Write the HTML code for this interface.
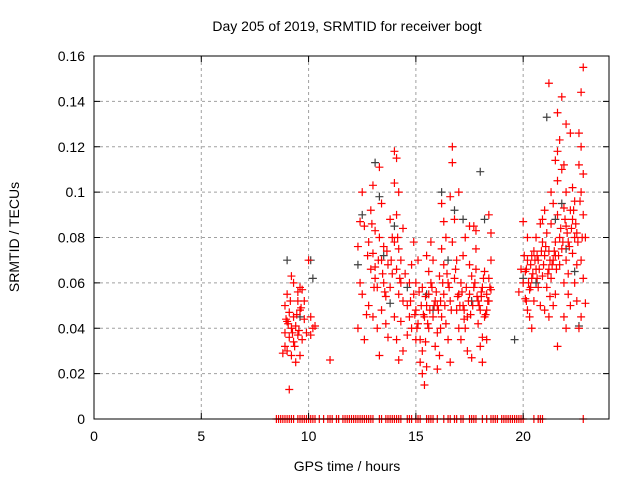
<!DOCTYPE html>
<html><head><meta charset="utf-8"><style>
body{margin:0;background:#fff;}
svg{display:block;font-family:"Liberation Sans",sans-serif;}
</style></head><body>
<svg id="chart" width="640" height="480">
<text x="347" y="31" font-size="14" text-anchor="middle">Day 205 of 2019, SRMTID for receiver bogt</text>
<text x="347" y="471" font-size="14" text-anchor="middle">GPS time / hours</text>
<text transform="translate(19,237) rotate(-90)" font-size="14" text-anchor="middle">SRMTID / TECUs</text>
<g id="grid"></g><g id="marks"></g><g id="axes"></g>
</svg>
<script>
const xTicks=[0,5,10,15,20];
const yTicks=[0,0.02,0.04,0.06,0.08,0.1,0.12,0.14,0.16];
const yTickLabels=["0","0.02","0.04","0.06","0.08","0.1","0.12","0.14","0.16"];
const redHours=[9.0,9.2,9.5,8.9,9.1,9.3,9.6,9.0,9.2,9.4,8.9,9.1,9.3,9.5,9.7,9.0,8.8,9.2,9.4,9.6,9.1,9.7,9.8,9.9,10.0,10.1,10.2,10.3,10.1,9.3,9.5,8.9,9.8,9.6,
11.0,
12.3,12.4,12.5,12.6,12.4,12.5,12.3,12.6,12.8,12.9,13.0,13.1,13.0,12.9,13.1,12.8,13.0,13.2,13.3,13.4,13.3,13.5,13.4,13.2,13.5,13.6,13.4,13.6,13.3,13.7,13.8,13.9,13.7,13.9,13.8,14.0,14.1,14.0,14.2,14.1,14.0,14.2,14.3,14.1,14.3,14.2,14.4,14.0,14.3,14.1,14.4,14.2,14.5,14.4,13.1,12.7,
14.6,14.7,14.8,14.6,14.9,15.0,14.8,14.9,15.1,15.0,15.1,15.2,15.3,15.2,15.3,15.4,15.5,15.4,15.5,15.6,15.3,15.6,15.5,15.7,15.8,15.7,15.9,15.8,16.0,15.9,16.1,16.0,16.2,16.3,16.1,16.3,16.2,16.4,16.2,16.5,16.6,16.4,16.5,16.7,16.7,16.6,16.8,16.7,16.9,16.8,17.0,16.9,17.0,17.1,17.1,17.2,17.3,17.2,17.4,17.3,17.5,17.6,17.5,17.4,17.6,17.7,17.8,17.8,17.7,17.9,18.0,17.9,18.1,18.0,18.2,18.1,18.3,18.2,18.4,18.3,18.4,18.5,18.5,18.4,18.5,18.3,17.0,16.6,15.0,15.6,16.0,17.8,14.7,18.1,17.5,16.3,
19.8,19.9,20.0,20.1,20.0,20.2,20.3,20.1,20.2,20.3,20.4,20.5,20.6,20.4,20.6,20.7,20.5,20.8,20.9,20.7,20.9,20.8,21.0,21.1,21.0,21.2,21.1,21.0,21.2,21.3,21.4,21.3,21.5,21.4,21.3,21.5,21.4,21.6,21.5,21.6,21.7,21.6,21.7,21.8,21.7,21.6,21.8,21.9,22.0,21.9,22.0,22.1,22.0,22.1,21.9,22.1,22.2,21.9,22.0,22.2,22.3,22.4,22.3,22.4,22.3,22.5,22.4,22.5,22.6,22.7,22.8,22.7,22.8,22.7,22.6,22.8,22.9,22.7,22.8,22.9,22.7,22.6,21.6,21.2,22.2,21.8,22.0,20.4,20.9,21.2,20.2,21.5,22.5,
9.05,9.25,9.45,9.15,9.35,9.55,8.95,9.65,
13.05,13.25,12.95,13.45,13.65,13.85,14.15,14.25,13.55,12.75,
14.75,14.95,15.15,15.25,15.35,15.45,15.55,15.65,15.75,15.85,15.95,16.05,16.15,16.25,16.35,16.45,16.55,16.65,16.85,16.95,17.05,17.15,17.25,17.35,17.45,17.55,17.65,17.75,17.85,17.95,18.05,18.15,18.25,18.35,18.45,15.05,15.45,16.15,17.25,18.05,
20.05,20.15,20.25,20.35,20.45,20.55,20.65,20.75,20.85,20.95,21.05,21.15,21.25,21.35,21.45,21.55,21.65,21.75,21.85,21.95,22.05,22.15,22.25,22.35,22.45,22.55,22.65,22.75,20.15,20.35,20.65,21.25];
const redValues=[.055,.063,.056,.050,.047,.045,.048,.043,.040,.041,.038,.036,.034,.037,.035,.030,.029,.028,.025,.028,.013,.057,.044,.038,.070,.045,.040,.041,.037,.060,.052,.032,.052,.058,
.026,
.076,.087,.100,.085,.060,.055,.040,.035,.078,.092,.103,.083,.073,.066,.062,.050,.045,.040,.111,.095,.080,.076,.070,.058,.060,.054,.048,.042,.028,.036,.088,.080,.068,.064,.058,.118,.115,.104,.100,.090,.078,.075,.070,.066,.060,.055,.052,.045,.043,.035,.030,.026,.064,.084,.067,.046,
.050,.045,.040,.037,.055,.060,.068,.078,.070,.048,.042,.035,.030,.025,.020,.015,.023,.045,.050,.055,.058,.065,.072,.078,.070,.060,.052,.045,.038,.032,.028,.022,.045,.055,.063,.068,.075,.080,.095,.060,.052,.042,.035,.120,.113,.098,.088,.078,.070,.062,.055,.048,.040,.035,.060,.072,.080,.050,.045,.040,.055,.063,.068,.030,.027,.085,.083,.075,.058,.052,.048,.042,.036,.032,.045,.058,.055,.065,.052,.048,.090,.082,.070,.062,.057,.035,.100,.025,.035,.040,.050,.066,.060,.025,.085,.087,
.056,.066,.087,.065,.060,.070,.057,.053,.048,.045,.040,.074,.066,.062,.080,.058,.052,.086,.078,.070,.063,.050,.092,.082,.072,.066,.058,.048,.045,.100,.095,.086,.078,.070,.062,.055,.050,.105,.114,.118,.123,.090,.080,.075,.068,.032,.110,.112,.100,.093,.085,.078,.070,.064,.060,.055,.050,.045,.040,.092,.102,.096,.088,.080,.073,.068,.060,.052,.126,.144,.155,.120,.108,.100,.112,.090,.080,.070,.062,.051,.045,.040,.135,.148,.126,.142,.130,.072,.088,.074,.080,.072,.082,
.042,.038,.046,.052,.032,.039,.044,.049,
.058,.070,.086,.064,.074,.070,.080,.062,.056,.072,
.052,.046,.056,.050,.046,.054,.042,.048,.058,.050,.056,.048,.052,.060,.050,.064,.058,.048,.066,.054,.050,.056,.048,.058,.052,.046,.050,.060,.054,.050,.056,.062,.046,.052,.058,.040,.034,.040,.044,.054,
.072,.066,.060,.068,.064,.070,.072,.066,.074,.068,.076,.064,.070,.068,.074,.066,.072,.084,.078,.088,.082,.076,.084,.092,.086,.078,.096,.080,.052,.058,.062,.054];
const greyHours=[9.0,9.6,10.1,10.2,12.5,12.3,13.1,13.3,13.5,14.0,14.6,15.5,16.2,16.8,17.2,18.0,18.2,19.6,20.0,21.1,21.5,22.4,22.6,22.0,15.8,16.5,17.6,13.8,20.6,21.8];
const greyValues=[.070,.045,.070,.062,.090,.068,.113,.098,.072,.085,.058,.055,.100,.092,.088,.109,.088,.035,.062,.133,.088,.065,.041,.075,.048,.070,.052,.051,.060,.095];
const zeroHours=[8.5,8.6,8.7,8.8,8.9,9.0,9.1,9.2,9.3,9.5,9.6,9.7,9.8,9.9,10.0,10.1,10.2,10.3,10.5,10.7,10.9,11.0,11.1,11.3,11.4,11.6,11.7,11.8,11.9,12.0,12.1,12.2,12.3,12.4,12.5,12.6,12.7,12.8,12.9,13.0,13.3,13.4,13.6,13.7,13.8,13.9,14.0,14.1,14.2,14.3,14.6,14.7,14.8,15.0,15.1,15.2,15.5,15.6,15.7,15.8,16.0,16.3,16.5,16.6,16.8,16.9,17.1,17.2,17.5,17.6,17.7,17.8,18.1,18.3,18.5,18.6,18.7,18.8,19.0,19.1,19.2,19.3,19.4,19.5,19.6,19.7,19.8,19.9,20.0,20.5,20.7,20.8,20.9,22.8];

const L=94,R=609,T=56,B=419,XMAX=24,YMAX=0.16;
const X=h=>L+h/XMAX*(R-L);
const Y=v=>B-v/YMAX*(B-T);
const NS="http://www.w3.org/2000/svg";
function mk(tag,attrs,parent){const e=document.createElementNS(NS,tag);for(const k in attrs)e.setAttribute(k,attrs[k]);parent.appendChild(e);return e;}
const grid=document.getElementById('grid'),marks=document.getElementById('marks'),axes=document.getElementById('axes');

xTicks.forEach(t=>{
  const x=X(t);
  if(t>0){const g=mk('line',{x1:x,x2:x,y1:T,y2:B,stroke:'#a0a0a0','stroke-dasharray':'3,3','stroke-width':1},grid);
  
  }
  const tk=mk('path',{d:`M${x},${B}v-6M${x},${T}v6`,stroke:'#000'},axes);
  
  
  const lb=mk('text',{x:x,y:B+22,'font-size':14,'text-anchor':'middle'},axes);
  lb.textContent=String(t);
  
  
});
yTicks.forEach((t,i)=>{
  const y=Y(t);
  if(i>0&&i<yTicks.length-1){const g=mk('line',{x1:L,x2:R,y1:y,y2:y,stroke:'#a0a0a0','stroke-dasharray':'3,3','stroke-width':1},grid);
  
  }
  const tk=mk('path',{d:`M${L},${y}h6M${R},${y}h-6`,stroke:'#000'},axes);
  
  
  const lb=mk('text',{x:L-9,y:y+5,'font-size':14,'text-anchor':'end'},axes);
  lb.textContent=yTickLabels[i];
  
  
});
const fr=mk('rect',{x:L,y:T,width:R-L,height:B-T,fill:'none',stroke:'#000','stroke-width':1},axes);



function plus(h,v,color,name){
  const x=X(h),y=Y(v);
  const p=mk('path',{d:`M${x-4},${y}h8M${x},${y-4}v8`,stroke:color,'stroke-width':1.2,fill:'none'},marks);
  
  
}
greyHours.forEach((h,i)=>plus(h,greyValues[i],'#404040','grey-point'));
redHours.forEach((h,i)=>plus(h,redValues[i],'#ff0000','red-point'));
zeroHours.forEach(h=>plus(h,0,'#ff0000','zero-point'));
</script>
</body></html>
